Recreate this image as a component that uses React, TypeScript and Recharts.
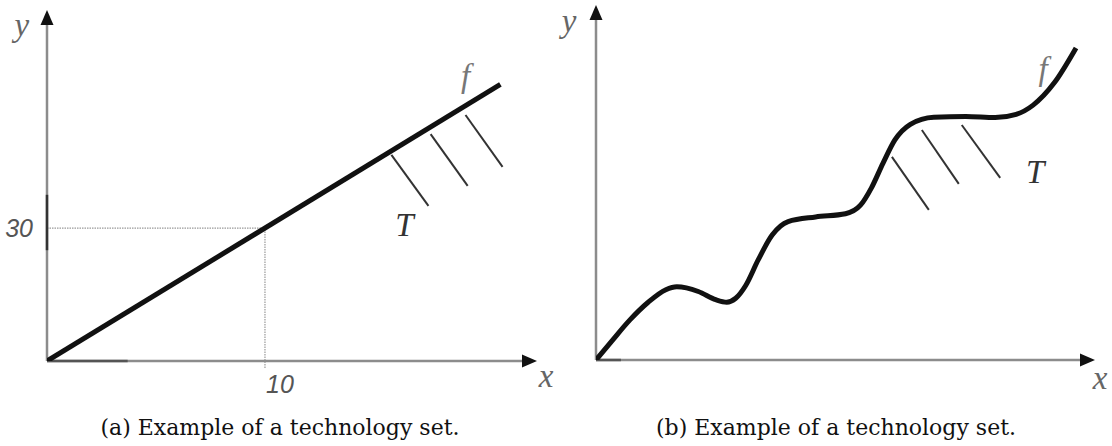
import React from 'react';
import {
  LineChart,
  Line,
  XAxis,
  YAxis,
  ReferenceLine,
  ReferenceDot,
} from 'recharts';

// Panel (a): linear frontier y = 3x
const frontierA = [
  { x: 0, y: 0 },
  { x: 20.8, y: 62.4 },
];
const guideA = { x: 10, y: 30 };
const xTicksA = [10];
const yTicksA = [30];
// hatch strokes under the frontier: start -> end
const hatchesA = [
  { x1: 15.8, y1: 46.5, x2: 17.5, y2: 35.0 },
  { x1: 17.6, y1: 51.2, x2: 19.3, y2: 39.5 },
  { x1: 19.2, y1: 55.5, x2: 20.9, y2: 43.8 },
];

// Panel (b): wavy frontier
const frontierB = [
  { x: 0, y: 0 },
  { x: 3.2, y: 5.4 },
  { x: 6.8, y: 11.3 },
  { x: 10.4, y: 16.2 },
  { x: 14.0, y: 19.8 },
  { x: 16.2, y: 20.6 },
  { x: 20.5, y: 19.3 },
  { x: 24.0, y: 17.0 },
  { x: 26.2, y: 16.3 },
  { x: 28.0, y: 17.4 },
  { x: 30.0, y: 21.0 },
  { x: 32.5, y: 28.2 },
  { x: 35.3, y: 35.2 },
  { x: 38.5, y: 39.0 },
  { x: 44.0, y: 40.3 },
  { x: 50.0, y: 41.2 },
  { x: 53.0, y: 43.6 },
  { x: 55.2, y: 48.5 },
  { x: 57.5, y: 55.4 },
  { x: 59.9, y: 62.0 },
  { x: 63.0, y: 66.4 },
  { x: 67.7, y: 68.4 },
  { x: 74.1, y: 68.6 },
  { x: 80.0, y: 68.3 },
  { x: 84.2, y: 69.2 },
  { x: 87.6, y: 71.8 },
  { x: 91.8, y: 78.0 },
  { x: 96.2, y: 87.9 },
];
const hatchesB = [
  { x1: 59.3, y1: 57.2, x2: 66.7, y2: 42.3 },
  { x1: 65.3, y1: 64.8, x2: 72.7, y2: 49.6 },
  { x1: 73.3, y1: 66.2, x2: 81.0, y2: 51.3 },
];

const captionA = '(a) Example of a technology set.';
const captionB = '(b) Example of a technology set.';

const MATH_FONT = '"Liberation Serif", serif';

// axis segment drawn with a filled arrowhead at its far end
const ArrowAxis = (props: any) => {
  const { x1, y1, x2, y2 } = props;
  const ang = Math.atan2(y2 - y1, x2 - x1);
  const c = Math.cos(ang);
  const s = Math.sin(ang);
  const len = 15;
  const half = 6.5;
  const bx = x2 - len * c;
  const by = y2 - len * s;
  const pts = `${x2},${y2} ${bx - s * half},${by + c * half} ${bx + s * half},${by - c * half}`;
  return (
    <g>
      <line x1={x1} y1={y1} x2={bx + c} y2={by + s} stroke="#8c8c8c" strokeWidth={2.5} />
      <polygon points={pts} fill="#111" />
    </g>
  );
};

const mathText = (text: string, color: string, size = 33) => (props: any) => (
  <text
    x={props.cx}
    y={props.cy}
    textAnchor="middle"
    fontFamily={MATH_FONT}
    fontStyle="italic"
    fontSize={size}
    fill={color}
  >
    {text}
  </text>
);

const XTick = (props: any) => (
  <text
    x={props.x + 15}
    y={props.y + 32}
    textAnchor="middle"
    fontFamily='"Liberation Sans", sans-serif'
    fontStyle="italic"
    fontSize={25}
    fill="#555"
  >
    {props.payload.value}
  </text>
);

const YTick = (props: any) => (
  <text
    x={props.x - 14}
    y={props.y + 9}
    textAnchor="end"
    fontFamily='"Liberation Sans", sans-serif'
    fontStyle="italic"
    fontSize={25}
    fill="#555"
  >
    {props.payload.value}
  </text>
);

const captionStyle = (center: number): React.CSSProperties => ({
  position: 'absolute',
  left: center - 250,
  width: 500,
  top: 414,
  lineHeight: '28px',
  textAlign: 'center',
  fontFamily: '"DejaVu Serif", serif',
  fontSize: 22,
  color: '#111',
});

export default function App() {
  return (
    <div style={{ position: 'absolute', left: 0, top: 0, width: 1112, height: 446, background: '#fff' }}>
      <div style={{ position: 'absolute', left: 0, top: 0 }}>
        <LineChart width={556} height={400} margin={{ top: 10, right: 19, bottom: 9, left: 0 }}>
          <XAxis
            dataKey="x"
            type="number"
            domain={[0, 22.48]}
            ticks={xTicksA}
            axisLine={false}
            tickLine={false}
            tickSize={0}
            tickMargin={0}
            height={30}
            tick={<XTick />}
            allowDataOverflow
          />
          <YAxis
            dataKey="y"
            type="number"
            domain={[0, 79.2]}
            ticks={yTicksA}
            axisLine={false}
            tickLine={false}
            tickSize={0}
            tickMargin={0}
            width={47}
            tick={<YTick />}
            allowDataOverflow
          />
          <ReferenceLine
            segment={[{ x: 0, y: guideA.y }, { x: guideA.x, y: guideA.y }]}
            stroke="#999"
            strokeWidth={1.2}
            strokeDasharray="1.5 1"
          />
          <ReferenceLine
            segment={[{ x: guideA.x, y: -1.6 }, { x: guideA.x, y: guideA.y }]}
            stroke="#999"
            strokeWidth={1.2}
            strokeDasharray="1.5 1"
            ifOverflow="visible"
          />
          <ReferenceLine segment={[{ x: 0, y: 0 }, { x: 22.48, y: 0 }]} shape={<ArrowAxis />} ifOverflow="visible" />
          <ReferenceLine segment={[{ x: 0, y: 0 }, { x: 0, y: 79.2 }]} shape={<ArrowAxis />} ifOverflow="visible" />
          <ReferenceLine segment={[{ x: 0, y: 25 }, { x: 0, y: 37.5 }]} stroke="#333" strokeWidth={2.5} />
          <ReferenceLine segment={[{ x: 0, y: 0 }, { x: 3.7, y: 0 }]} stroke="#555" strokeWidth={2.5} />
          {hatchesA.map((h, i) => (
            <ReferenceLine
              key={`ha-${i}`}
              segment={[{ x: h.x1, y: h.y1 }, { x: h.x2, y: h.y2 }]}
              stroke="#333"
              strokeWidth={2}
            />
          ))}
          <Line
            data={frontierA}
            dataKey="y"
            type="linear"
            stroke="#111"
            strokeWidth={5}
            dot={false}
            isAnimationActive={false}
          />
          <ReferenceDot x={19.2} y={61.9} r={0} ifOverflow="visible" shape={mathText('f', '#777')} />
          <ReferenceDot x={16.4} y={28.2} r={0} ifOverflow="visible" shape={mathText('T', '#333')} />
          <ReferenceDot x={-1.15} y={73.4} r={0} ifOverflow="visible" shape={mathText('y', '#666')} />
          <ReferenceDot x={22.9} y={-5.9} r={0} ifOverflow="visible" shape={mathText('x', '#666')} />
        </LineChart>
      </div>

      <div style={{ position: 'absolute', left: 556, top: 0 }}>
        <LineChart width={556} height={400} margin={{ top: 5, right: 17, bottom: 40, left: 40 }}>
          <XAxis dataKey="x" type="number" domain={[0, 100]} hide allowDataOverflow />
          <YAxis dataKey="y" type="number" domain={[0, 100]} hide allowDataOverflow />
          <ReferenceLine segment={[{ x: 0, y: 0 }, { x: 100, y: 0 }]} shape={<ArrowAxis />} ifOverflow="visible" />
          <ReferenceLine segment={[{ x: 0, y: 0 }, { x: 0, y: 100 }]} shape={<ArrowAxis />} ifOverflow="visible" />
          <ReferenceLine segment={[{ x: 0, y: 0 }, { x: 5, y: 0 }]} stroke="#555" strokeWidth={2.5} />
          {hatchesB.map((h, i) => (
            <ReferenceLine
              key={`hb-${i}`}
              segment={[{ x: h.x1, y: h.y1 }, { x: h.x2, y: h.y2 }]}
              stroke="#333"
              strokeWidth={2}
            />
          ))}
          <Line
            data={frontierB}
            dataKey="y"
            type="monotone"
            stroke="#111"
            strokeWidth={5}
            dot={false}
            isAnimationActive={false}
          />
          <ReferenceDot x={89.6} y={78.9} r={0} ifOverflow="visible" shape={mathText('f', '#777')} />
          <ReferenceDot x={88.0} y={49.9} r={0} ifOverflow="visible" shape={mathText('T', '#333')} />
          <ReferenceDot x={-5.4} y={92.4} r={0} ifOverflow="visible" shape={mathText('y', '#666')} />
          <ReferenceDot x={101} y={-8.2} r={0} ifOverflow="visible" shape={mathText('x', '#666')} />
        </LineChart>
      </div>

      <div style={captionStyle(280)}>{captionA}</div>
      <div style={captionStyle(836)}>{captionB}</div>
    </div>
  );
}
